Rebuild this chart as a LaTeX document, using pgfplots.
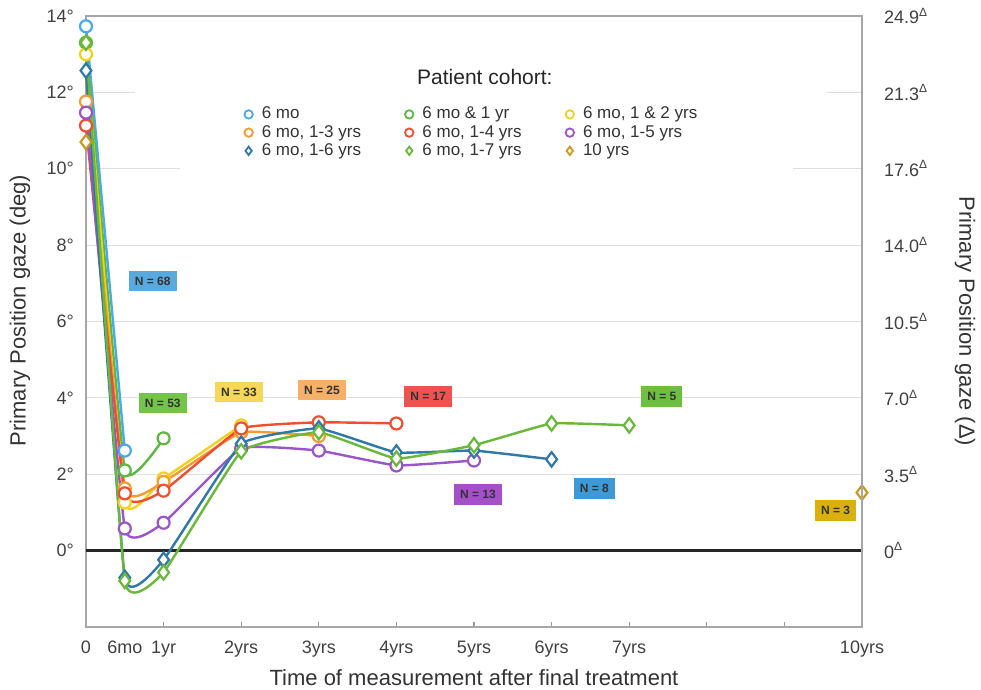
\documentclass[border=0pt]{standalone}
\usepackage{fontspec}
\setmainfont{Liberation Sans}
\usepackage{pgfplots}
\pgfplotsset{compat=1.18}
\definecolor{c1}{HTML}{4AA8F0}
\definecolor{c2}{HTML}{5CB840}
\definecolor{c3}{HTML}{F2D21B}
\definecolor{c4}{HTML}{F39C33}
\definecolor{c5}{HTML}{F04E30}
\definecolor{c6}{HTML}{9A55C8}
\definecolor{c7}{HTML}{2F78A8}
\definecolor{c8}{HTML}{6AB83A}
\definecolor{c9}{HTML}{C99A20}
\definecolor{b68}{HTML}{58A9DE}
\definecolor{b53}{HTML}{74C44C}
\definecolor{b33}{HTML}{F5D75A}
\definecolor{b25}{HTML}{F7B068}
\definecolor{b17}{HTML}{EF5350}
\definecolor{b13}{HTML}{A550C8}
\definecolor{b8}{HTML}{3D9AD6}
\definecolor{b5}{HTML}{6CBF3F}
\definecolor{b3}{HTML}{D9B010}
\pgfplotsset{
  ser/.style={color=#1, line width=1.2pt, smooth, tension=0.19, mark=*, mark size=3pt, mark options={fill=white, solid, line width=1.1pt}},
  serd/.style={color=#1, line width=1.2pt, smooth, tension=0.19, mark=diamond*, mark size=3.6pt, mark options={fill=white, solid, line width=1.1pt}},
}
\tikzset{nbox/.style={font=\fontsize{6}{7}\selectfont\bfseries, text=black!80, inner xsep=3pt, inner ysep=2.5pt, text height=4.6pt, text depth=0.6pt}}
\begin{document}
\begin{tikzpicture}
\begin{axis}[
  at={(0,0)}, anchor=south west,
  scale only axis, width=388pt, height=305.5pt,
  xmin=0, xmax=10, ymin=-2, ymax=14,
  clip=false,
  axis line style={draw=black!35, line width=1.1pt},
  xtick={1,...,9}, xticklabels={}, xtick pos=bottom,
  x tick style={draw=black!40, line width=0.6pt}, major tick length=2.5pt,
  extra x ticks={0,0.5,1,2,3,4,5,6,7,10},
  extra x tick labels={0,6mo,1yr,2yrs,3yrs,4yrs,5yrs,6yrs,7yrs,10yrs},
  extra x tick style={major tick length=0pt, xticklabel style={anchor=base, yshift=-13.5pt}},
  ytick={0,2,...,14}, ytick pos=left,
  yticklabels={0°,2°,4°,6°,8°,10°,12°,14°},
  y tick style={draw=none},
  yticklabel style={xshift=-2.5pt},
  ymajorgrids, grid style={draw=black!13, line width=0.6pt},
  tick label style={font=\fontsize{9}{10}\selectfont, text=black!75},
  every axis x label/.style={at={(rel axis cs:0.5,0)}, yshift=-25.5pt, anchor=center, font=\fontsize{11}{12}\selectfont, text=black!80},
  every axis y label/.style={at={(rel axis cs:0,0.518)}, xshift=-33pt, rotate=90, anchor=center, font=\fontsize{11}{12}\selectfont, text=black!80},
  xlabel={Time of measurement after final treatment},
  ylabel={Primary Position gaze (deg)},
  legend columns=3,
  legend cell align=left,
  legend style={at={(axis cs:1.985,11.75)}, anchor=north west, draw=none, fill=white, inner sep=2pt,
    font=\fontsize{8.5}{9}\selectfont, text=black!80, row sep=1pt,
    nodes={inner sep=0pt, anchor=west, text height=6.3pt, text depth=1.8pt},
    /tikz/every odd column/.append style={column sep=4.5pt},
    /tikz/every even column/.append style={column sep=22pt}},
  legend image code/.code={\draw[#1,/tikz/only marks,mark size=2.1pt,mark options={fill=white,solid,line width=0.9pt}] plot coordinates {(0pt,0pt)};},
]
\fill[white] (axis cs:0.63,11.6) rectangle (axis cs:9.55,12.4);
\fill[white] (axis cs:1.21,9.7) rectangle (axis cs:9.11,11.6);
\addplot[black!85, line width=1.2pt, forget plot] coordinates {(0,0) (10,0)};

\addplot[ser=c1] coordinates {(0,13.73) (0.5,2.62)};
\addlegendentry{6 mo}
\addplot[ser=c2] coordinates {(0,13.3) (0.5,2.1) (1,2.94)};
\addlegendentry{6 mo \& 1 yr}
\addplot[ser=c3] coordinates {(0,13.0) (0.5,1.26) (1,1.89) (2,3.28)};
\addlegendentry{6 mo, 1 \& 2 yrs}
\addplot[ser=c4] coordinates {(0,11.76) (0.5,1.63) (1,1.8) (2,3.1) (3,3.0)};
\addlegendentry{6 mo, 1-3 yrs}
\addplot[ser=c5] coordinates {(0,11.13) (0.5,1.5) (1,1.57) (2,3.2) (3,3.36) (4,3.33)};
\addlegendentry{6 mo, 1-4 yrs}
\addplot[ser=c6] coordinates {(0,11.47) (0.5,0.58) (1,0.73) (2,2.68) (3,2.62) (4,2.23) (5,2.36)};
\addlegendentry{6 mo, 1-5 yrs}
\addplot[serd=c7] coordinates {(0,12.57) (0.5,-0.71) (1,-0.24) (2,2.8) (3,3.2) (4,2.57) (5,2.62) (6,2.39)};
\addlegendentry{6 mo, 1-6 yrs}
\addplot[serd=c8] coordinates {(0,13.3) (0.5,-0.79) (1,-0.57) (2,2.6) (3,3.1) (4,2.41) (5,2.76) (6,3.33) (7,3.28)};
\addlegendentry{6 mo, 1-7 yrs}
\addplot[serd=c9, only marks] coordinates {(0,10.7) (10,1.52)};
\addlegendentry{10 yrs}

\node[font=\fontsize{10.5}{12}\selectfont, text=black!85] at (axis cs:5.14,12.41) {Patient cohort:};
\node[nbox, fill=b68] at (axis cs:0.86,7.06) {N = 68};
\node[nbox, fill=b53] at (axis cs:0.99,3.86) {N = 53};
\node[nbox, fill=b33] at (axis cs:1.97,4.15) {N = 33};
\node[nbox, fill=b25] at (axis cs:3.04,4.2) {N = 25};
\node[nbox, fill=b17] at (axis cs:4.41,4.04) {N = 17};
\node[nbox, fill=b13] at (axis cs:5.05,1.47) {N = 13};
\node[nbox, fill=b8] at (axis cs:6.55,1.63) {N = 8};
\node[nbox, fill=b5] at (axis cs:7.42,4.04) {N = 5};
\node[nbox, fill=b3] at (axis cs:9.66,1.05) {N = 3};
\end{axis}
\begin{axis}[
  at={(0,0)}, anchor=south west,
  scale only axis, width=388pt, height=305.5pt,
  xmin=0, xmax=10, ymin=-2, ymax=14,
  hide x axis, axis y line*=right,
  axis line style={draw=black!35, line width=1.1pt},
  ytick={0,2,...,14},
  yticklabels={0\textsuperscript{Δ},3.5\textsuperscript{Δ},7.0\textsuperscript{Δ},10.5\textsuperscript{Δ},14.0\textsuperscript{Δ},17.6\textsuperscript{Δ},21.3\textsuperscript{Δ},24.9\textsuperscript{Δ}},
  y tick style={draw=none},
  yticklabel style={xshift=7.5pt, font=\fontsize{9}{10}\selectfont, text=black!75},
  every axis y label/.style={at={(rel axis cs:1,0.5)}, xshift=51.5pt, rotate=-90, anchor=center, font=\fontsize{11}{12}\selectfont, text=black!80},
  ylabel={Primary Position gaze (Δ)},
]
\addplot[draw=none] coordinates {(0,0)};
\end{axis}
\pgfresetboundingbox
\path[use as bounding box] (-43pt,-31.5pt) rectangle (447.5pt,313.5pt);
\end{tikzpicture}
\end{document}
